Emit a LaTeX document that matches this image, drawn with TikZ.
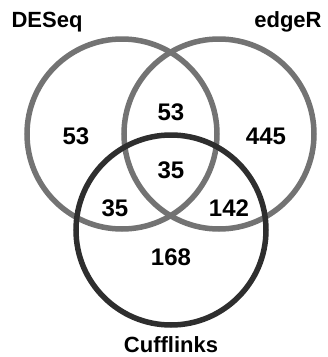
\documentclass[tikz,border=0pt]{standalone}
\usepackage{fontspec}
\setmainfont{Liberation Sans}
\begin{document}
\begin{tikzpicture}[x=1pt,y=-1pt,
  ring/.style={circle,draw,line width=5.5pt,minimum size=190pt,inner sep=0pt},
  gring/.style={ring,draw=black!55},
  dring/.style={ring,draw=black!82},
  lbl/.style={font=\fontsize{22}{24}\selectfont\bfseries,inner sep=0pt},
  num/.style={font=\fontsize{24}{26}\selectfont\bfseries,inner sep=0pt}]
\useasboundingbox[fill=white] (0,0) rectangle (328,357);
\node[gring] (deseq) at (122,134) {};
\node[gring] (edger) at (219,134) {};
\node[dring] (cuff) at (171,230) {};
\node[lbl] (tdeseq) at (47,22) {DESeq};
\node[lbl] (tedger) at (288,22) {edgeR};
\node[lbl] (tcuff) at (171,345) {Cufflinks};
\node[num] (n1) at (76,136) {53};
\node[num] (n2) at (171,112) {53};
\node[num] (n3) at (266,136) {445};
\node[num] (n4) at (171,170) {35};
\node[num] (n5) at (115,208) {35};
\node[num] (n6) at (229,208) {142};
\node[num] (n7) at (171,257) {168};
\end{tikzpicture}
\end{document}
